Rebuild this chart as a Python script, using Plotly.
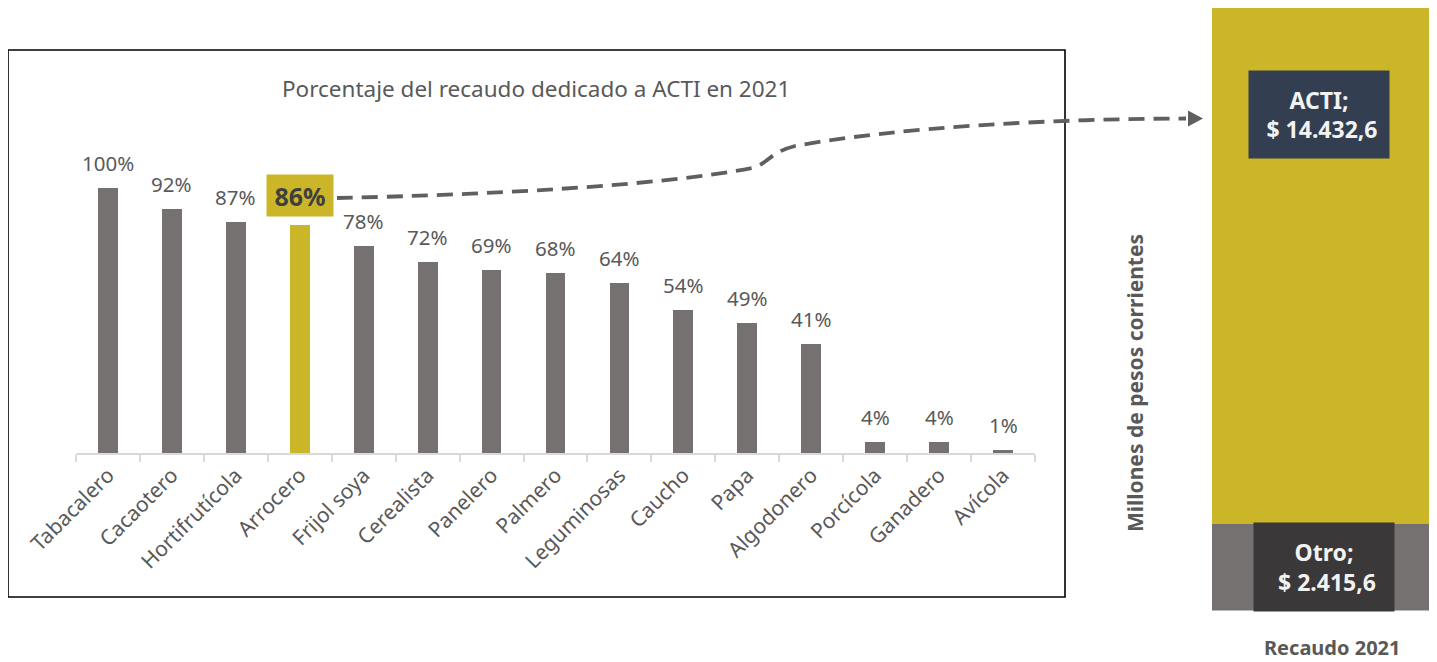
import plotly.graph_objects as go

W, H = 1437, 662
OFF = 8  # page body margin of the browser

def px(x):
    return min(1.0, max(0.0, (x - OFF) / W))

def py(y):
    return min(1.0, max(0.0, 1 - (y - OFF) / H))

# ---- data ----
categories = ["Tabacalero", "Cacaotero", "Hortifrutícola", "Arrocero", "Frijol soya",
              "Cerealista", "Panelero", "Palmero", "Leguminosas", "Caucho", "Papa",
              "Algodonero", "Porcícola", "Ganadero", "Avícola"]
pct_values = [100, 92, 87, 86, 78, 72, 69, 68, 64, 54, 49, 41, 4, 4, 1]
highlight = "Arrocero"

recaudo_category = ["Recaudo 2021"]
recaudo_names = ["Otro", "ACTI"]
recaudo_values = [2415.6, 14432.6]
recaudo_text = ["Otro;<br> $ 2.415,6", "ACTI;<br> $ 14.432,6"]

GRAY = "#767171"
YELLOW = "#CBB629"
TXT = "#595959"
FONT = "Noto Sans"

bar_colors = [YELLOW if c == highlight else GRAY for c in categories]

fig = go.Figure()
fig.add_trace(go.Bar(x=categories, y=pct_values, marker=dict(color=bar_colors, line=dict(width=0)),
                     width=0.31, xaxis="x", yaxis="y", hoverinfo="x+y", showlegend=False))

rec_colors = [GRAY, YELLOW]
for name, val, col in zip(recaudo_names, recaudo_values, rec_colors):
    fig.add_trace(go.Bar(x=recaudo_category, y=[val], name=name, width=1,
                         marker=dict(color=col, line=dict(width=0)),
                         xaxis="x2", yaxis="y2", showlegend=False))

total = sum(recaudo_values)

annotations = []
# value labels
for c, v in zip(categories, pct_values):
    if c == highlight:
        annotations.append(dict(x=c, y=v, xref="x", yref="y", text="<b>%d%%</b>" % v,
                                showarrow=False, xanchor="center", yanchor="middle", yshift=30,
                                width=66, height=41, bgcolor=YELLOW, borderpad=0,
                                font=dict(family=FONT, size=25, color="#3f3f3f")))
    else:
        annotations.append(dict(x=c, y=v, xref="x", yref="y", text="%d%%" % v,
                                showarrow=False, xanchor="center", yanchor="middle", yshift=25,
                                font=dict(family=FONT, size=20.5, color=TXT)))

def lab(x, y, text, **kw):
    d = dict(x=px(x), y=py(y), xref="paper", yref="paper", text=text, showarrow=False,
             xanchor="center", yanchor="middle")
    d.update(kw)
    return d

# title
annotations.append(lab(536, 88, "Porcentaje del recaudo dedicado a ACTI en 2021",
                       font=dict(family=FONT, size=22.5, color=TXT)))
# right labels
annotations.append(lab(1319, 115, "<b>" + recaudo_text[1] + "</b>",
                       width=140, height=87, bgcolor="#333F50", borderpad=0,
                       font=dict(family=FONT, size=23, color="#F2F2F2")))
annotations.append(lab(1324, 567, "<b>" + recaudo_text[0] + "</b>",
                       width=140, height=88, bgcolor="#3A3838", borderpad=0,
                       font=dict(family=FONT, size=23, color="#F2F2F2")))
annotations.append(lab(1135, 383, "<b>Millones de pesos corrientes</b>", textangle=-90,
                       font=dict(family=FONT, size=21, color=TXT)))
annotations.append(lab(1332, 647, "<b>Recaudo 2021</b>",
                       font=dict(family=FONT, size=20, color=TXT)))

# dashed connector path (pixels -> paper)
def P(x, y):
    return "%.5f,%.5f" % (px(x), py(y))

path = ("M " + P(337, 198) + " C " + P(480, 195) + " " + P(660, 186) + " " + P(752, 168) +
        " C " + P(770, 163) + " " + P(768, 153) + " " + P(795, 146) +
        " C " + P(900, 127) + " " + P(1050, 119) + " " + P(1186, 118.5))
arrow = "M " + P(1188, 110.5) + " L " + P(1203, 118.5) + " L " + P(1188, 126.5) + " Z"

shapes = [
    dict(type="rect", xref="paper", yref="paper", x0=px(7), x1=px(1065), y0=py(597), y1=py(50),
         line=dict(color="#000000", width=1.6), fillcolor="rgba(0,0,0,0)", layer="below"),
    dict(type="path", xref="paper", yref="paper", path=path,
         line=dict(color="#5f5f5f", width=3.8, dash="16px,9px")),
    dict(type="path", xref="paper", yref="paper", path=arrow,
         line=dict(color="#5f5f5f", width=0), fillcolor="#5f5f5f"),
]

fig.update_layout(
    width=W, height=H,
    margin=dict(l=0, r=0, t=0, b=0),
    paper_bgcolor="white", plot_bgcolor="white",
    barmode="stack",
    showlegend=False,
    font=dict(family=FONT, color=TXT),
    xaxis=dict(domain=[px(76), px(1035)], type="category", range=[-0.5, 14.5],
               showline=True, linecolor="#d9d9d9", linewidth=1.5,
               ticks="outside", tickson="boundaries", ticklen=7, tickcolor="#d9d9d9", tickwidth=1.5,
               tickangle=-45, tickfont=dict(family=FONT, size=21, color=TXT),
               showgrid=False, zeroline=False, automargin=False, fixedrange=True),
    yaxis=dict(domain=[py(453), py(188)], range=[0, 100], visible=False,
               showgrid=False, zeroline=False, fixedrange=True),
    xaxis2=dict(domain=[px(1212), px(1445)], type="category", range=[-0.5, 0.5],
                visible=False, showgrid=False, automargin=False, fixedrange=True),
    yaxis2=dict(domain=[py(610.5), py(8)], range=[0, total], anchor="x2",
                visible=False, showgrid=False, zeroline=False, fixedrange=True),
    annotations=annotations,
    shapes=shapes,
)

fig.write_html("out.html")
